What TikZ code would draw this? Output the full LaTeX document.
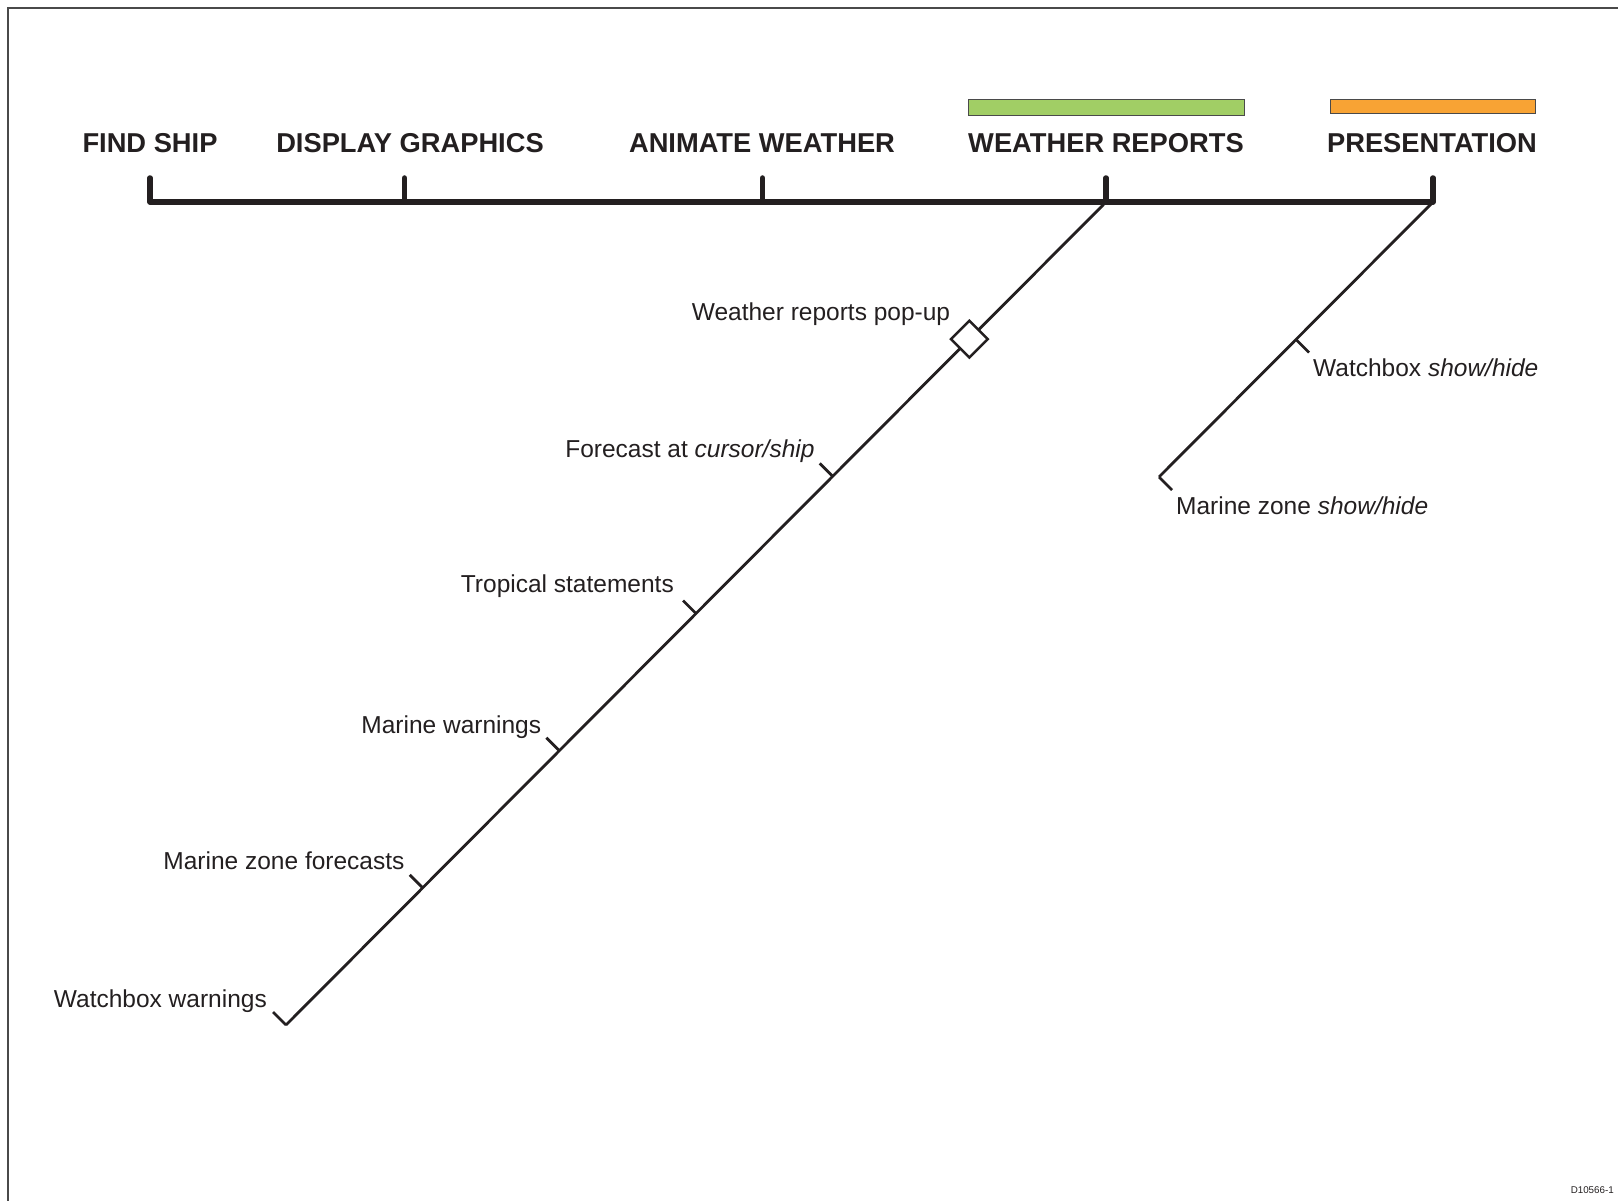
\documentclass[tikz,border=0pt]{standalone}
\usepackage{fontspec}
\setmainfont{Liberation Sans}
\usetikzlibrary{calc}
\definecolor{inkc}{HTML}{231F20}
\definecolor{framec}{HTML}{4A4A4A}
\definecolor{greenbar}{HTML}{A1CE65}
\definecolor{orangebar}{HTML}{F8A334}
\begin{document}
\begin{tikzpicture}[x=1pt,y=-1pt,
  barline/.style={draw=inkc, line width=5.5pt, line cap=round, line join=round},
  diagline/.style={draw=inkc, line width=2.8pt},
  tickline/.style={draw=inkc, line width=2.8pt},
  head/.style={font=\fontsize{27.3}{30}\selectfont\bfseries, text=inkc, inner sep=0pt, anchor=base},
  lbl/.style={font=\fontsize{24.5}{28}\selectfont, text=inkc, inner sep=0pt},
  colourbar/.style={draw=framec, line width=1pt}
]
\useasboundingbox (0,0) rectangle (1618,1201);
% frame (top and left edges only)
\draw[draw=framec, line width=2pt] (8,1201) -- (8,8) -- (1618,8);

% bar coordinates
\coordinate (fs) at (150,202);
\coordinate (dg) at (404.5,202);
\coordinate (aw) at (762.5,202);
\coordinate (wr) at (1106,202);
\coordinate (pr) at (1433,202);

% headings
\node[head] (hfs) at (150,153) {FIND SHIP};
\node[head] (hdg) at (410,153) {DISPLAY GRAPHICS};
\node[head] (haw) at (762,153) {ANIMATE WEATHER};
\node[head] (hwr) at (1106,153) {WEATHER REPORTS};
\node[head] (hpr) at (1432,153) {PRESENTATION};

% colour bars
\node[colourbar, fill=greenbar, inner sep=0pt, minimum width=276pt, minimum height=16.5pt, anchor=north west] (gbar) at (968,99) {};
\node[colourbar, fill=orangebar, inner sep=0pt, minimum width=205pt, minimum height=14.5pt, anchor=north west] (obar) at (1330,99) {};

% main bar
\draw[barline] ($(fs)+(0,-24)$) -- (fs) -- (pr) -- ($(pr)+(0,-24)$);
\foreach \c in {dg,aw,wr} \draw[barline] (\c) -- ($(\c)+(0,-24)$);

% weather reports branch
\coordinate (wrEnd) at (286,1025);
\coordinate (k1) at ($(wr)!1/6!(wrEnd)$);
\coordinate (k2) at ($(wr)!2/6!(wrEnd)$);
\coordinate (k3) at ($(wr)!3/6!(wrEnd)$);
\coordinate (k4) at ($(wr)!4/6!(wrEnd)$);
\coordinate (k5) at ($(wr)!5/6!(wrEnd)$);
\draw[diagline] (wr) -- (wrEnd);
\foreach \c in {k2,k3,k4,k5,wrEnd} \draw[tickline] (\c) -- ($(\c)+(-13,-13)$);
\node[draw=inkc, fill=white, line width=2.5pt, minimum size=26pt, inner sep=0pt, rotate=45] (dia) at (k1) {};

\node[lbl, anchor=base east] (l1) at ($(k1)+(-19,-19)$) {Weather reports pop-up};
\node[lbl, anchor=base east] (l2) at ($(k2)+(-18,-19)$) {Forecast at \textit{cursor/ship}};
\node[lbl, anchor=base east] (l3) at ($(k3)+(-22,-21)$) {Tropical statements};
\node[lbl, anchor=base east] (l4) at ($(k4)+(-18,-17)$) {Marine warnings};
\node[lbl, anchor=base east] (l5) at ($(k5)+(-18,-18)$) {Marine zone forecasts};
\node[lbl, anchor=base east] (l6) at ($(wrEnd)+(-19,-18)$) {Watchbox warnings};

% presentation branch
\coordinate (prEnd) at (1159,477);
\coordinate (p1) at ($(pr)!1/2!(prEnd)$);
\draw[diagline] (pr) -- (prEnd);
\foreach \c in {p1,prEnd} \draw[tickline] (\c) -- ($(\c)+(13,13)$);
\node[lbl, anchor=base west] (r1) at ($(p1)+(17,37)$) {Watchbox \textit{show/hide}};
\node[lbl, anchor=base west] (r2) at ($(prEnd)+(17,37)$) {Marine zone \textit{show/hide}};

% drawing number
\node[font=\fontsize{9.8}{11}\selectfont, text=inkc, inner sep=0pt, anchor=base east] (dnum) at (1614,1193) {D10566-1};
\end{tikzpicture}
\end{document}
